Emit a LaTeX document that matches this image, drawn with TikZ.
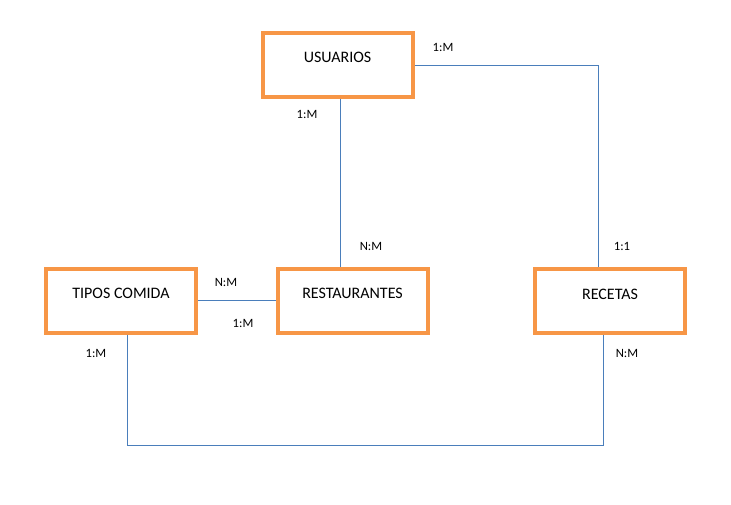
\documentclass[tikz,border=0pt]{standalone}
\usepackage{fontspec}
\setmainfont{Carlito}
\definecolor{boxorange}{HTML}{F79646}
\definecolor{lineblue}{HTML}{4A7EBB}
\tikzset{
	entity/.style={draw=boxorange, line width=3pt, rectangle, minimum width=112.5pt, minimum height=48pt, font=\fontsize{12}{14}\selectfont, text height=8pt, text depth=11pt},
	link/.style={draw=lineblue, line width=0.75pt},
	card/.style={font=\fontsize{9.5}{11}\selectfont, inner sep=0pt}
}
\begin{document}
\begin{tikzpicture}[x=0.75pt,y=-0.75pt]
		\useasboundingbox (0,0) rectangle (731,504);
		%\draw [help lines] (0,0) grid[step=50] (731,504);
		\node[entity] (usu) at (337.5,64.5){USUARIOS};
		\node[entity] (tip) at (121,300.5){TIPOS COMIDA};
		\node[entity] (res) at (352.5,300.5){RESTAURANTES};
		\node[entity] (rec) at (610,301){RECETAS};

		\draw[link] ([yshift=-1pt]usu.east) -| ([xshift=-9pt]rec.north);
		\draw[link] ([xshift=2.6pt]usu.south) -- ([xshift=2.6pt]usu.south |- res.north);
		\draw[link] (tip) -- (res);
		\draw[link] ([xshift=5.2pt]tip.south) -- ++(0,111) -| ([xshift=-5.2pt]rec.south);

		\node[card] (c1) at (443,47){1:M};
		\node[card] (c2) at (307,114){1:M};
		\node[card] (c3) at (371,246){N:M};
		\node[card] (c4) at (622,246){1:1};
		\node[card] (c5) at (226,282){N:M};
		\node[card] (c6) at (243,323){1:M};
		\node[card] (c7) at (96,353){1:M};
		\node[card] (c8) at (627,353){N:M};
	\end{tikzpicture}
\end{document}
